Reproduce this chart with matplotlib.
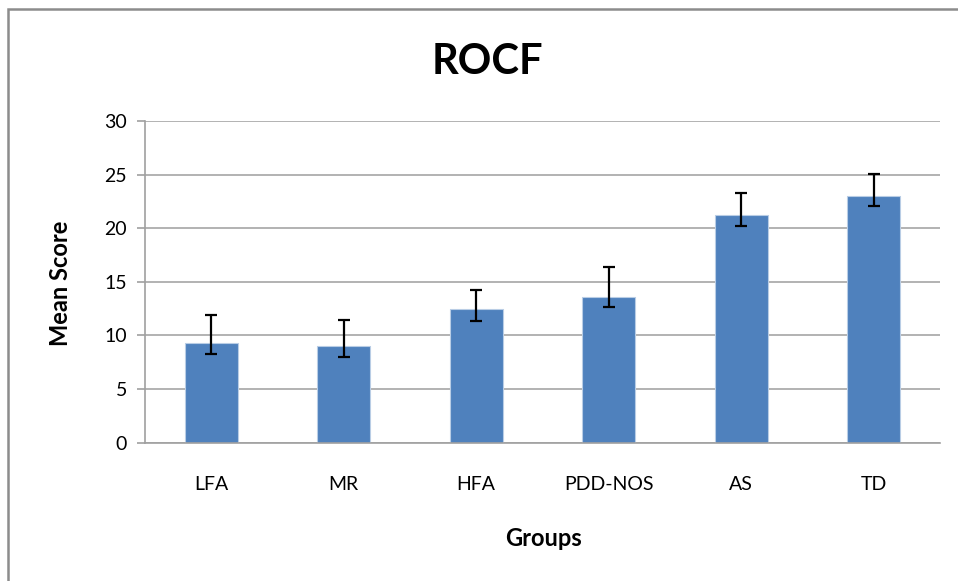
import numpy as np
import matplotlib.pyplot as plt
from matplotlib.patches import Rectangle

groups = ['LFA', 'MR', 'HFA', 'PDD-NOS', 'AS', 'TD']
mean_score = [9.3, 9.0, 12.45, 13.6, 21.2, 23.05]
err_low = [1.0, 1.0, 1.1, 0.9, 0.95, 0.95]
err_high = [2.6, 2.4, 1.8, 2.8, 2.05, 2.0]

plt.rcParams['font.family'] = ['Lato', 'DejaVu Sans']

W, H = 958, 581
fig = plt.figure(figsize=(W / 100, H / 100), dpi=100)

# chart-area border (left and top visible)
fig.patches.append(Rectangle((7.5 / W, -0.1), 1.2, (H - 8.5) / H + 0.1,
                             transform=fig.transFigure, fill=False,
                             edgecolor='#8c8c8c', linewidth=1.8))

ax = fig.add_axes([145 / W, (H - 442.7) / H, 795 / W, 321.7 / H])

x = np.arange(len(groups))
ax.bar(x, mean_score, width=0.4, color='#4f81bd', edgecolor='#b9cde5',
       linewidth=0.8, zorder=2)
ax.errorbar(x, mean_score, yerr=[err_low, err_high], fmt='none',
            ecolor='black', elinewidth=1.6, capsize=4.5, capthick=1.6, zorder=3)

ax.set_xlim(-0.5, 5.5)
ax.set_ylim(0, 30)
ax.set_yticks(range(0, 31, 5))
ax.set_xticks(x)
ax.set_xticklabels(groups)
ax.yaxis.grid(True, color='#a6a6a6', linewidth=1.2, zorder=0)
ax.set_axisbelow(True)

for s in ['top', 'right']:
    ax.spines[s].set_visible(False)
ax.spines['left'].set_color('#a0a0a0')
ax.spines['bottom'].set_color('#a0a0a0')
ax.spines['left'].set_linewidth(1.2)
ax.spines['bottom'].set_linewidth(1.2)

ax.tick_params(axis='y', length=6, width=1.2, color='#a0a0a0', labelsize=14, pad=7)
ax.tick_params(axis='x', length=0, labelsize=14, pad=24)

fig.text(487 / W, 1 - 62 / H, 'ROCF', ha='center', va='center',
         fontsize=30, fontweight='bold')
fig.text(60 / W, 1 - 283 / H, 'Mean Score', ha='center', va='center',
         rotation=90, fontsize=17, fontweight='bold')
fig.text(543 / W, 1 - 538 / H, 'Groups', ha='center', va='center',
         fontsize=17, fontweight='bold')

fig.savefig('out.png', dpi=100)
